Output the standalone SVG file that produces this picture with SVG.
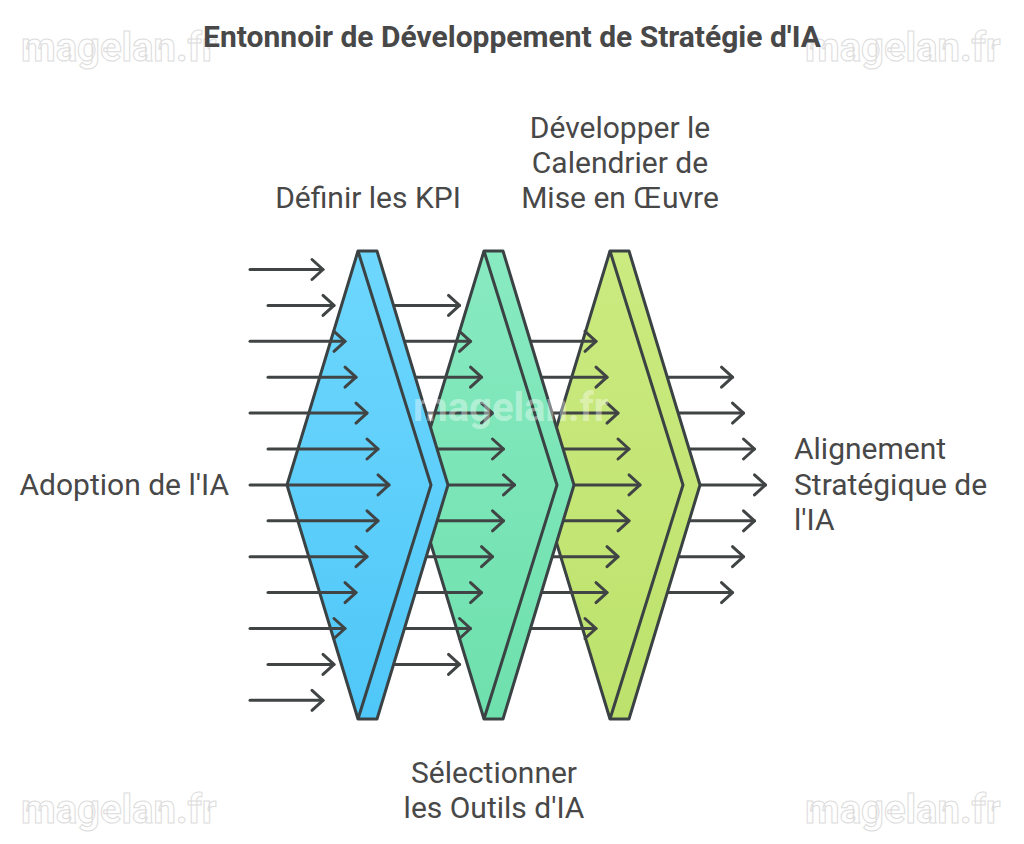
<svg xmlns="http://www.w3.org/2000/svg" width="1024" height="844" viewBox="0 0 1024 844">
<defs>
<linearGradient id="gBlue" x1="0" y1="0" x2="0" y2="1"><stop offset="0" stop-color="#6ed7fd"/><stop offset="1" stop-color="#4fc7f8"/></linearGradient>
<linearGradient id="gGreen" x1="0" y1="0" x2="0" y2="1"><stop offset="0" stop-color="#88eac1"/><stop offset="1" stop-color="#6ee0ad"/></linearGradient>
<linearGradient id="gYellow" x1="0" y1="0" x2="0" y2="1"><stop offset="0" stop-color="#cbea80"/><stop offset="1" stop-color="#bde26c"/></linearGradient>
</defs>
<style>
.t{font-family:Roboto,"Liberation Sans",sans-serif;fill:#484848;font-size:30px}
.title{font-family:Roboto,"Liberation Sans",sans-serif;fill:#484848;font-size:30px;font-weight:bold}
.wm{font-family:Roboto,"Liberation Sans",sans-serif;font-size:40px;font-weight:bold;fill:none;stroke:#dcdcdc;stroke-width:1}
.wmc{font-family:Roboto,"Liberation Sans",sans-serif;font-size:40px;font-weight:bold;fill:#ffffff;fill-opacity:0.4}
.sh{stroke:#3b4244;stroke-width:3;stroke-linejoin:round}
.ar{stroke:#404444;stroke-width:3;fill:none;stroke-linecap:round;stroke-linejoin:round}
</style>
<rect width="1024" height="844" fill="#ffffff"/>
<g id="watermarks">
<text class="wm" x="21" y="61">magelan.fr</text>
<text class="wm" x="805" y="61">magelan.fr</text>
<text class="wm" x="21" y="823">magelan.fr</text>
<text class="wm" x="805" y="823">magelan.fr</text>
</g>
<text class="title" x="512" y="47" text-anchor="middle">Entonnoir de Développement de Stratégie d'IA</text>
<g id="connectors">
<g id="arrows-out" class="ar">
<line x1="645" y1="377.2" x2="732.5" y2="377.2"/><polyline points="721.5,367.2 732.5,377.2 721.5,387.2"/>
<line x1="645" y1="413.1" x2="743.5" y2="413.1"/><polyline points="732.5,403.1 743.5,413.1 732.5,423.1"/>
<line x1="645" y1="449" x2="754.5" y2="449"/><polyline points="743.5,439 754.5,449 743.5,459"/>
<line x1="645" y1="484.9" x2="765.5" y2="484.9"/><polyline points="754.5,474.9 765.5,484.9 754.5,494.9"/>
<line x1="645" y1="520.8" x2="754.5" y2="520.8"/><polyline points="743.5,510.8 754.5,520.8 743.5,530.8"/>
<line x1="645" y1="556.7" x2="743.5" y2="556.7"/><polyline points="732.5,546.7 743.5,556.7 732.5,566.7"/>
<line x1="645" y1="592.6" x2="732.5" y2="592.6"/><polyline points="721.5,582.6 732.5,592.6 721.5,602.6"/>
</g>
</g>
<g id="node-yellow">
<path class="sh" fill="url(#gYellow)" d="M539,485 L610,251 L629,251 L700,485 L629,719 L610,719 Z"/>
<polyline class="sh" fill="none" points="610,251 683,485 610,719"/>
</g>
<g id="arrows-3" class="ar">
<line x1="519" y1="341.3" x2="596" y2="341.3"/><polyline points="585,331.3 596,341.3 585,351.3"/>
<line x1="519" y1="377.2" x2="607" y2="377.2"/><polyline points="596,367.2 607,377.2 596,387.2"/>
<line x1="519" y1="413.1" x2="618" y2="413.1"/><polyline points="607,403.1 618,413.1 607,423.1"/>
<line x1="519" y1="449" x2="629" y2="449"/><polyline points="618,439 629,449 618,459"/>
<line x1="519" y1="484.9" x2="640" y2="484.9"/><polyline points="629,474.9 640,484.9 629,494.9"/>
<line x1="519" y1="520.8" x2="629" y2="520.8"/><polyline points="618,510.8 629,520.8 618,530.8"/>
<line x1="519" y1="556.7" x2="618" y2="556.7"/><polyline points="607,546.7 618,556.7 607,566.7"/>
<line x1="519" y1="592.6" x2="607" y2="592.6"/><polyline points="596,582.6 607,592.6 596,602.6"/>
<line x1="519" y1="628.5" x2="596" y2="628.5"/><polyline points="585,618.5 596,628.5 585,638.5"/>
</g>
<g id="node-green">
<path class="sh" fill="url(#gGreen)" d="M413,485 L484,251 L503,251 L574,485 L503,719 L484,719 Z"/>
<polyline class="sh" fill="none" points="484,251 557,485 484,719"/>
</g>
<g id="arrows-2" class="ar">
<line x1="394" y1="305.4" x2="459.5" y2="305.4"/><polyline points="448.5,295.4 459.5,305.4 448.5,315.4"/>
<line x1="394" y1="341.3" x2="470.5" y2="341.3"/><polyline points="459.5,331.3 470.5,341.3 459.5,351.3"/>
<line x1="394" y1="377.2" x2="481.5" y2="377.2"/><polyline points="470.5,367.2 481.5,377.2 470.5,387.2"/>
<line x1="394" y1="413.1" x2="492.5" y2="413.1"/><polyline points="481.5,403.1 492.5,413.1 481.5,423.1"/>
<line x1="394" y1="449" x2="503.5" y2="449"/><polyline points="492.5,439 503.5,449 492.5,459"/>
<line x1="394" y1="484.9" x2="514.5" y2="484.9"/><polyline points="503.5,474.9 514.5,484.9 503.5,494.9"/>
<line x1="394" y1="520.8" x2="503.5" y2="520.8"/><polyline points="492.5,510.8 503.5,520.8 492.5,530.8"/>
<line x1="394" y1="556.7" x2="492.5" y2="556.7"/><polyline points="481.5,546.7 492.5,556.7 481.5,566.7"/>
<line x1="394" y1="592.6" x2="481.5" y2="592.6"/><polyline points="470.5,582.6 481.5,592.6 470.5,602.6"/>
<line x1="394" y1="628.5" x2="470.5" y2="628.5"/><polyline points="459.5,618.5 470.5,628.5 459.5,638.5"/>
<line x1="394" y1="664.4" x2="459.5" y2="664.4"/><polyline points="448.5,654.4 459.5,664.4 448.5,674.4"/>
</g>
<g id="node-blue">
<path class="sh" fill="url(#gBlue)" d="M287,485 L358,251 L377,251 L448,485 L377,719 L358,719 Z"/>
<polyline class="sh" fill="none" points="358,251 431,485 358,719"/>
</g>
<g id="arrows-in" class="ar">
<line x1="250" y1="269.5" x2="323" y2="269.5"/><polyline points="312,259.5 323,269.5 312,279.5"/>
<line x1="268" y1="305.4" x2="334" y2="305.4"/><polyline points="323,295.4 334,305.4 323,315.4"/>
<line x1="250" y1="341.3" x2="345" y2="341.3"/><polyline points="334,331.3 345,341.3 334,351.3"/>
<line x1="268" y1="377.2" x2="356" y2="377.2"/><polyline points="345,367.2 356,377.2 345,387.2"/>
<line x1="250" y1="413.1" x2="367" y2="413.1"/><polyline points="356,403.1 367,413.1 356,423.1"/>
<line x1="268" y1="449" x2="378" y2="449"/><polyline points="367,439 378,449 367,459"/>
<line x1="250" y1="484.9" x2="389" y2="484.9"/><polyline points="378,474.9 389,484.9 378,494.9"/>
<line x1="268" y1="520.8" x2="378" y2="520.8"/><polyline points="367,510.8 378,520.8 367,530.8"/>
<line x1="250" y1="556.7" x2="367" y2="556.7"/><polyline points="356,546.7 367,556.7 356,566.7"/>
<line x1="268" y1="592.6" x2="356" y2="592.6"/><polyline points="345,582.6 356,592.6 345,602.6"/>
<line x1="250" y1="628.5" x2="345" y2="628.5"/><polyline points="334,618.5 345,628.5 334,638.5"/>
<line x1="268" y1="664.4" x2="334" y2="664.4"/><polyline points="323,654.4 334,664.4 323,674.4"/>
<line x1="250" y1="700.3" x2="323" y2="700.3"/><polyline points="312,690.3 323,700.3 312,710.3"/>
</g>
<text class="wmc" x="413" y="421">magelan.fr</text>
<g id="labels">
<text class="t" x="368" y="208" text-anchor="middle">Définir les KPI</text>
<text class="t" x="620" text-anchor="middle"><tspan x="620" y="138">Développer le</tspan><tspan x="620" y="173">Calendrier de</tspan><tspan x="620" y="208">Mise en Œuvre</tspan></text>
<text class="t" x="494" text-anchor="middle"><tspan x="494" y="783">Sélectionner</tspan><tspan x="494" y="818">les Outils d'IA</tspan></text>
<text class="t" x="229" y="495" text-anchor="end">Adoption de l'IA</text>
<text class="t" x="794"><tspan x="794" y="459">Alignement</tspan><tspan x="794" y="495">Stratégique de</tspan><tspan x="794" y="530">l'IA</tspan></text>
</g>
</svg>
